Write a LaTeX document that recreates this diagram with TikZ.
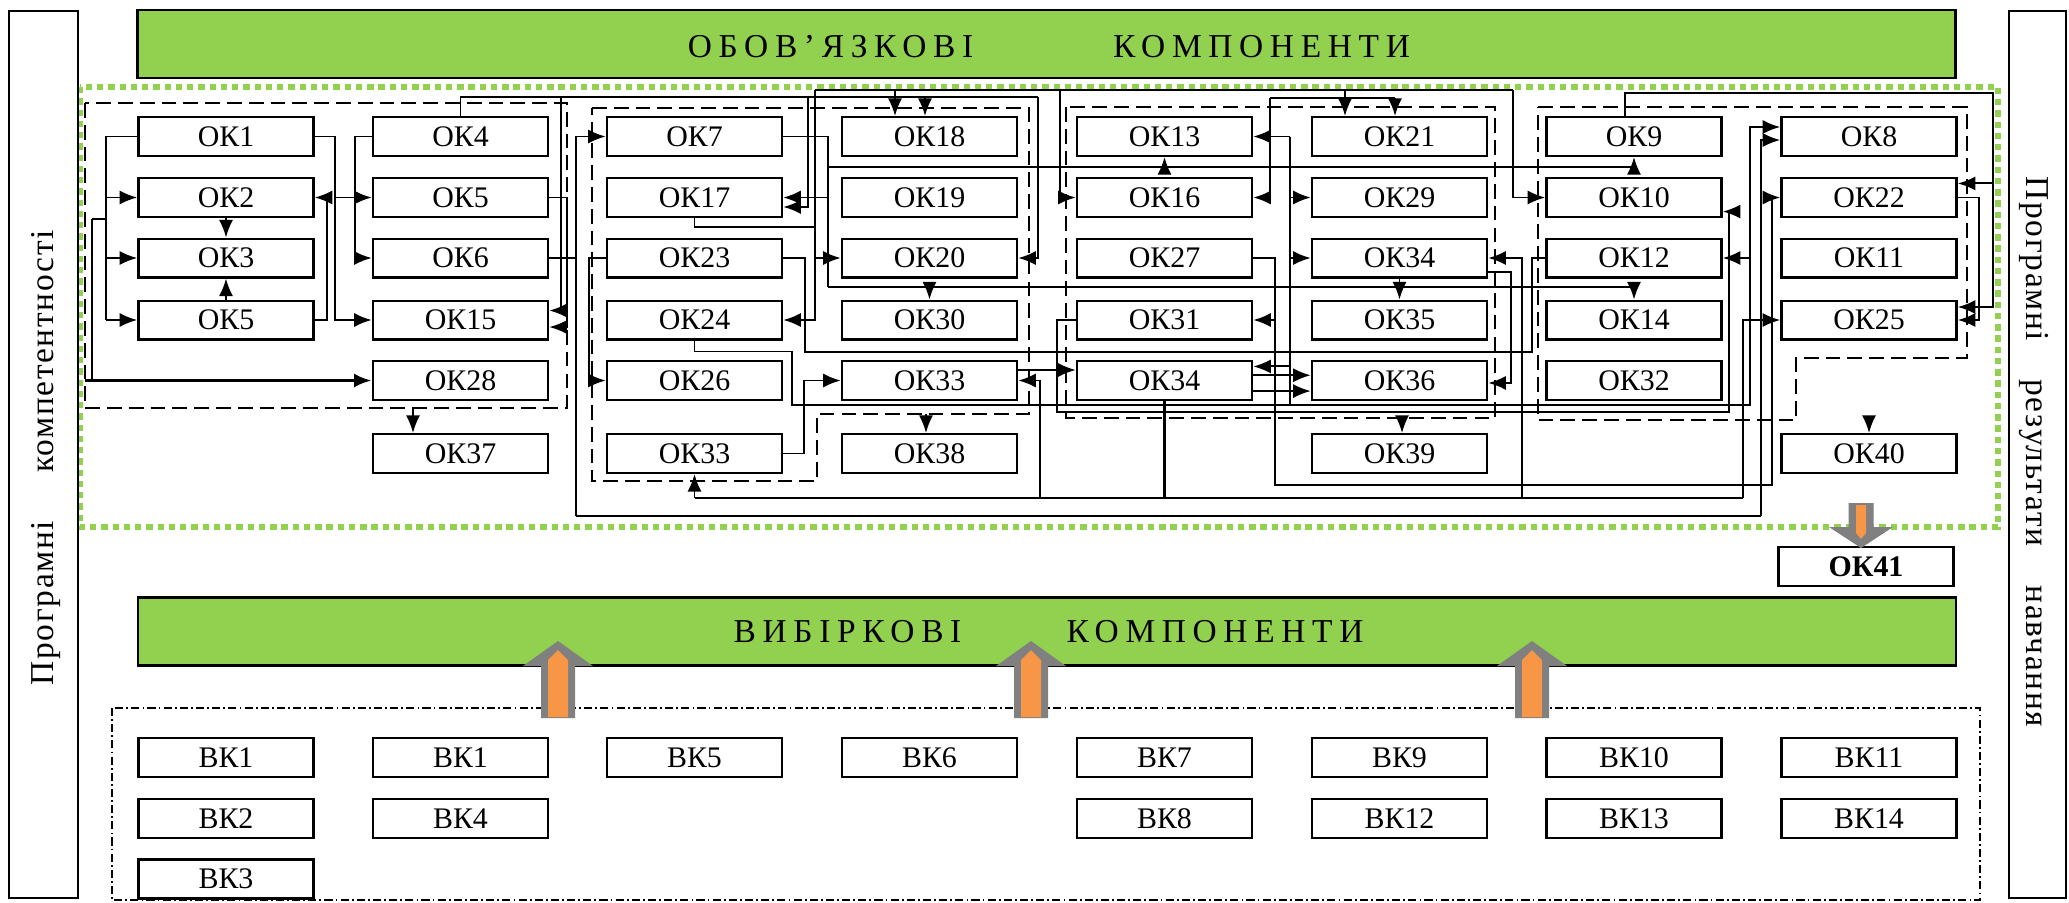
\documentclass[tikz,border=0pt]{standalone}
\usepackage{fontspec}
\setmainfont{Liberation Serif}
\definecolor{okgreen}{RGB}{146,208,80}
\definecolor{arrorange}{RGB}{247,150,70}
\definecolor{arrgray}{RGB}{128,128,128}
\usetikzlibrary{arrows.meta}

\begin{document}
\begin{tikzpicture}[x=0.01cm,y=-0.01cm,
    every node/.style={font=\fontsize{8.5}{10}\selectfont},
    ok/.style={draw,fill=white,line width=0.7pt,minimum width=1.75cm,
               minimum height=0.385cm,inner sep=0pt},
    wire/.style={line width=0.55pt},
    arr/.style={wire,-{Latex[length=5pt,width=4pt]}},
    grp/.style={line width=0.55pt,dash pattern=on 4.2pt off 2pt},
    greenbar/.style={draw,fill=okgreen,line width=0.8pt,minimum width=18.17cm,
               minimum height=0.68cm,inner sep=0pt},
    bartext/.style={anchor=base,
               font=\fontsize{9.5}{11}\selectfont\addfontfeatures{LetterSpace=20}},
    sidelabel/.style={anchor=base,
               font=\fontsize{9.5}{11}\selectfont\addfontfeatures{LetterSpace=5}},
    blockup/.pic={
      \fill[arrgray] (-17,0) -- (-17,-52) -- (-35,-52) -- (0,-77) -- (35,-52)
                     -- (17,-52) -- (17,0) -- cycle;
      \fill[arrorange] (-10,-1) -- (-10,-58) -- (0,-68) -- (10,-58) -- (10,-1) -- cycle;},
    blockdown/.pic={
      \fill[arrgray] (-12.5,0) -- (-12.5,24) -- (-32,24) -- (0,45) -- (32,24)
                     -- (12.5,24) -- (12.5,0) -- cycle;
      \fill[arrorange] (-5,2) -- (-5,30) -- (0,36) -- (5,30) -- (5,2) -- cycle;}]
  \useasboundingbox (0,0) rectangle (2069,902);

  %% outer frames
  \draw[okgreen,line width=1.8pt,dash pattern=on 1.8pt off 1.4pt]
        (80,87) rectangle (1998,527);
  \draw[line width=0.45pt,dash pattern=on 2.3pt off 0.9pt on 0.5pt off 0.9pt]
        (112,708) rectangle (1980,900);
  \node[draw,line width=0.6pt,minimum width=0.69cm,minimum height=8.87cm,
        inner sep=0pt] (lbox) at (43.5,454.5) {};
  \node[draw,line width=0.6pt,minimum width=0.57cm,minimum height=8.87cm,
        inner sep=0pt] (rbox) at (2037.5,454.5) {};
  \node[sidelabel,rotate=90] (lt1) at (54,351.5) {компетентності};
  \node[sidelabel,rotate=90] (lt2) at (54,603) {Програмні};
  \node[sidelabel,rotate=-90] (rt1) at (2026,259) {Програмні};
  \node[sidelabel,rotate=-90] (rt2) at (2026,463) {результати};
  \node[sidelabel,rotate=-90] (rt3) at (2026,656.5) {навчання};

  %% green bars
  \node[greenbar] (topbar) at (1046.5,44) {};
  \node[bartext] (tt1) at (830.5,57) {ОБОВ’ЯЗКОВІ};
  \node[bartext] (tt2) at (1261.5,57) {КОМПОНЕНТИ};
  \node[greenbar] (botbar) at (1047,631.5) {};
  \node[bartext] (bt1) at (847.5,642) {ВИБІРКОВІ};
  \node[bartext] (bt2) at (1215,642) {КОМПОНЕНТИ};

  %% groups
  \draw[grp] (85,103) rectangle (567,408);
  \draw[grp] (592,108) -- (1029,108) -- (1029,414) -- (817,414) -- (817,481)
        -- (592,481) -- cycle;
  \draw[grp] (1066,107) rectangle (1495,418);
  \draw[grp] (1538,107) -- (1967,107) -- (1967,358) -- (1796,358) -- (1796,420)
        -- (1538,420) -- cycle;

  %% compulsory components
  \node[ok] (ok1)  at (226,136.5) {ОК1};
  \node[ok] (ok2)  at (226,197.5) {ОК2};
  \node[ok] (ok3)  at (226,258)   {ОК3};
  \node[ok] (ok5a) at (226,320)   {ОК5};

  \node[ok] (ok4)  at (460.5,136.5) {ОК4};
  \node[ok] (ok5)  at (460.5,197.5) {ОК5};
  \node[ok] (ok6)  at (460.5,258)   {ОК6};
  \node[ok] (ok15) at (460.5,320)   {ОК15};
  \node[ok] (ok28) at (460.5,380.5) {ОК28};
  \node[ok] (ok37) at (460.5,453.5) {ОК37};

  \node[ok] (ok7)  at (694.5,136.5) {ОК7};
  \node[ok] (ok17) at (694.5,197.5) {ОК17};
  \node[ok] (ok23) at (694.5,258)   {ОК23};
  \node[ok] (ok24) at (694.5,320)   {ОК24};
  \node[ok] (ok26) at (694.5,380.5) {ОК26};
  \node[ok] (ok33a) at (694.5,453.5) {ОК33};

  \node[ok] (ok18) at (929.5,136.5) {ОК18};
  \node[ok] (ok19) at (929.5,197.5) {ОК19};
  \node[ok] (ok20) at (929.5,258)   {ОК20};
  \node[ok] (ok30) at (929.5,320)   {ОК30};
  \node[ok] (ok33) at (929.5,380.5) {ОК33};
  \node[ok] (ok38) at (929.5,453.5) {ОК38};

  \node[ok] (ok13) at (1164.5,136.5) {ОК13};
  \node[ok] (ok16) at (1164.5,197.5) {ОК16};
  \node[ok] (ok27) at (1164.5,258)   {ОК27};
  \node[ok] (ok31) at (1164.5,320)   {ОК31};
  \node[ok] (ok34a) at (1164.5,380.5) {ОК34};

  \node[ok] (ok21) at (1399.5,136.5) {ОК21};
  \node[ok] (ok29) at (1399.5,197.5) {ОК29};
  \node[ok] (ok34) at (1399.5,258)   {ОК34};
  \node[ok] (ok35) at (1399.5,320)   {ОК35};
  \node[ok] (ok36) at (1399.5,380.5) {ОК36};
  \node[ok] (ok39) at (1399.5,453.5) {ОК39};

  \node[ok] (ok9)  at (1634,136.5) {ОК9};
  \node[ok] (ok10) at (1634,197.5) {ОК10};
  \node[ok] (ok12) at (1634,258)   {ОК12};
  \node[ok] (ok14) at (1634,320)   {ОК14};
  \node[ok] (ok32) at (1634,380.5) {ОК32};

  \node[ok] (ok8)  at (1869,136.5) {ОК8};
  \node[ok] (ok22) at (1869,197.5) {ОК22};
  \node[ok] (ok11) at (1869,258)   {ОК11};
  \node[ok] (ok25) at (1869,320)   {ОК25};
  \node[ok] (ok40) at (1869,453.5) {ОК40};

  \node[ok,font=\fontsize{8.5}{10}\selectfont\bfseries] (ok41) at (1866,566.5) {ОК41};

  %% elective components
  \node[ok,minimum height=0.39cm] (vk1)  at (226,757.5)   {ВК1};
  \node[ok,minimum height=0.39cm] (vk2)  at (226,818.5)   {ВК2};
  \node[ok,minimum height=0.39cm] (vk3)  at (226,879)     {ВК3};
  \node[ok,minimum height=0.39cm] (vk1b) at (460.5,757.5) {ВК1};
  \node[ok,minimum height=0.39cm] (vk4)  at (460.5,818.5) {ВК4};
  \node[ok,minimum height=0.39cm] (vk5)  at (694.5,757.5) {ВК5};
  \node[ok,minimum height=0.39cm] (vk6)  at (929.5,757.5) {ВК6};
  \node[ok,minimum height=0.39cm] (vk7)  at (1164.5,757.5) {ВК7};
  \node[ok,minimum height=0.39cm] (vk8)  at (1164.5,818.5) {ВК8};
  \node[ok,minimum height=0.39cm] (vk9)  at (1399.5,757.5) {ВК9};
  \node[ok,minimum height=0.39cm] (vk12) at (1399.5,818.5) {ВК12};
  \node[ok,minimum height=0.39cm] (vk10) at (1634,757.5)  {ВК10};
  \node[ok,minimum height=0.39cm] (vk13) at (1634,818.5)  {ВК13};
  \node[ok,minimum height=0.39cm] (vk11) at (1869,757.5)  {ВК11};
  \node[ok,minimum height=0.39cm] (vk14) at (1869,818.5)  {ВК14};

  %% block arrows
  \pic at (558,718) {blockup};
  \pic at (1031,718) {blockup};
  \pic at (1532,718) {blockup};
  \pic at (1861,503) {blockdown};

  %% first group
  \coordinate (ba) at (106,136.5);
  \coordinate (tk) at (92,219);
  \coordinate (tk0) at (85,380.5);
  \coordinate (bc) at (335,136.5);
  \draw[wire] (ok1.west) -- (ba) -- (ba |- ok5a.west);
  \draw[arr] (ba |- ok2.west) -- (ok2.west);
  \draw[arr] (ba |- ok3.west) -- (ok3.west);
  \draw[arr] (ba |- ok5a.west) -- (ok5a.west);
  \draw[wire] (tk) -- (tk -| ba);
  \draw[wire] (tk) -- (tk |- ok28.west);
  \draw[arr,line width=1pt] (tk0) -- (ok28.west);
  \draw[arr] (ok2.south) -- (ok3.north);
  \draw[arr] (ok5a.north) -- (ok3.south);
  \draw[arr] (ok1.east) -- (bc) |- (ok15.west);
  \draw[arr] (bc |- ok5.west) -- (ok5.west);
  \draw[arr] (ok5a.east) -- ++(12,0) |- (ok2.east);
  \draw[arr] (ok4.west) -- ++(-17,0) |- (ok6.west);
  \draw[arr] (ok5.east) -- ++(18,0) |- ([yshift=-2pt]ok15.east);

  %% top lines
  \coordinate (l2) at (1038,97);
  \coordinate (l2a) at (561,97);
  \coordinate (l2b) at (808,97);
  \coordinate (l2c) at (925,97);
  \draw[wire] (ok4.north) |- (l2);
  \draw[arr] (l2) |- (ok20.east);
  \draw[arr] (l2a) |- ([yshift=2.7pt]ok15.east);
  \draw[arr] (l2b) |- ([yshift=-2.7pt]ok17.east);
  \draw[arr] (l2c) -- (l2c |- ok18.north);

  \coordinate (l1) at (815,90);
  \coordinate (l1a) at (895,90);
  \coordinate (l1b) at (1060,90);
  \coordinate (l1c) at (1345,90);
  \coordinate (l1e) at (1513,90);
  \draw[wire] (l1) -- (l1e);
  \draw[arr] (l1) |- (ok24.east);
  \draw[arr] (l1 |- ok20.west) -- (ok20.west);
  \draw[wire] (ok17.south) -- ++(0,9) -| (l1);
  \draw[arr] (l1a) -- (l1a |- ok18.north);
  \draw[arr] (l1b) |- (ok16.west);
  \draw[arr] (l1c) -- (l1c |- ok21.north);
  \draw[arr] (l1e) |- (ok10.west);

  \coordinate (l3) at (1270,98);
  \coordinate (l3e) at (1395,98);
  \draw[wire] (l3) -- (l3e);
  \draw[arr] (l3) |- (ok16.east);
  \draw[arr] (l3e) -- (l3e |- ok21.north);

  %% middle lines
  \coordinate (m1) at (828,167);
  \coordinate (m1e) at (1634,167);
  \coordinate (m2) at (828,287);
  \coordinate (m2e) at (1634,287);
  \draw[wire] (ok7.east) -| (m2);
  \draw[arr] (m1 |- ok17.east) -- (ok17.east);
  \draw[wire] (m1) -- (m1e);
  \draw[arr] (m1 -| ok13.south) -- (ok13.south);
  \draw[arr] (m1e) -- (ok9.south);
  \draw[wire] (m2) -- (m2e);
  \draw[arr] (m2 -| ok30.north) -- (ok30.north);
  \draw[arr] (m2e) -- (ok14.north);
  \draw[arr] (ok34.south) -- (ok35.north);

  \coordinate (p23) at (805,352);
  \coordinate (p12) at (1532,352);
  \draw[wire] (ok23.east) -| (p23) -- (p12) |- (ok12.west);
  \draw[arr] (ok23.west) -- ++(-17,0) |- (ok26.west);
  \draw[arr] (ok33a.east) -- ++(21,0) |- (ok33.west);
  \draw[arr] ([yshift=3pt]ok33.east) -- ([yshift=3pt]ok34a.west);

  %% lower lines
  \coordinate (bl) at (576,516);
  \coordinate (ble) at (1761,516);
  \draw[wire] (ok6.east) -- (bl |- ok6.east);
  \draw[arr] (bl) |- (ok7.west);
  \draw[wire] (bl) -- (ble);
  \draw[arr] (ble) |- ([yshift=-1pt]ok8.west);

  \coordinate (p24) at (792,405);
  \coordinate (p8) at (1750,405);
  \coordinate (p5) at (1290,405);
  \draw[arr] (ok24.south) -- ++(0,11) -| (p24) -- (p8) |- ([yshift=2.7pt]ok8.west);
  \draw[arr] (p8 |- ok12.east) -- (ok12.east);
  \draw[wire] (p5) -- (p5 |- ok13.east);
  \draw[arr] (p5 |- ok13.east) -- (ok13.east);
  \draw[arr] (p5 |- ok29.west) -- (ok29.west);
  \draw[arr] (p5 |- ok34.west) -- (ok34.west);
  \draw[arr] (p5) |- ([yshift=4pt]ok34a.east);

  \coordinate (p31) at (1057,412);
  \coordinate (p10) at (1729,412);
  \draw[arr] (ok31.west) -| (p31) -- (p10) |- ([yshift=-4pt]ok10.east);

  \coordinate (p27) at (1275,485);
  \coordinate (p22) at (1772,485);
  \draw[arr] (ok27.east) -| (p27) -- (p22) |- (ok22.west);
  \draw[arr] (p27 |- ok31.east) -- (ok31.east);

  \coordinate (b1a) at (694.5,498);
  \coordinate (b1b) at (1040,498);
  \coordinate (b1c) at (1522,498);
  \coordinate (b1e) at (1743,498);
  \draw[wire] (b1a) -- (b1e);
  \draw[line width=1pt] (ok34a.south) -- (ok34a.south |- b1a);
  \draw[arr] (b1a) -- (ok33a.south);
  \draw[arr] (b1b) |- (ok33.east);
  \draw[arr] (b1c) |- (ok34.east);
  \draw[arr] (b1e) |- (ok25.west);

  \draw[arr] ([yshift=-4pt]ok34.east) -- ++(23,0) |- ([yshift=-0.7pt]ok36.east);
  \draw[arr] ([yshift=1.5pt]ok34a.east) -- ([yshift=1.5pt]ok36.west);
  \draw[arr] ([yshift=-3pt]ok34a.east) -- ([yshift=-3pt]ok36.west);

  %% right group
  \coordinate (r9) at (1993,93);
  \draw[arr] ([xshift=-2.5pt]ok9.north) |- (r9) |- ([yshift=3.7pt]ok25.east);
  \draw[arr] (r9) |- ([yshift=4pt]ok22.east);
  \draw[arr] (ok22.east) -- ++(21,0) |- (ok25.east);

  %% group outputs
  \coordinate (ga) at (413,408);
  \coordinate (gb) at (926,414);
  \coordinate (gc) at (1402,418);
  \coordinate (gd) at (1869,418);
  \draw[arr] (ga) -- (ga |- ok37.north);
  \draw[arr] (gb) -- (gb |- ok38.north);
  \draw[arr] (gc) -- (gc |- ok39.north);
  \draw[arr] (gd) -- (gd |- ok40.north);
\end{tikzpicture}
\end{document}
